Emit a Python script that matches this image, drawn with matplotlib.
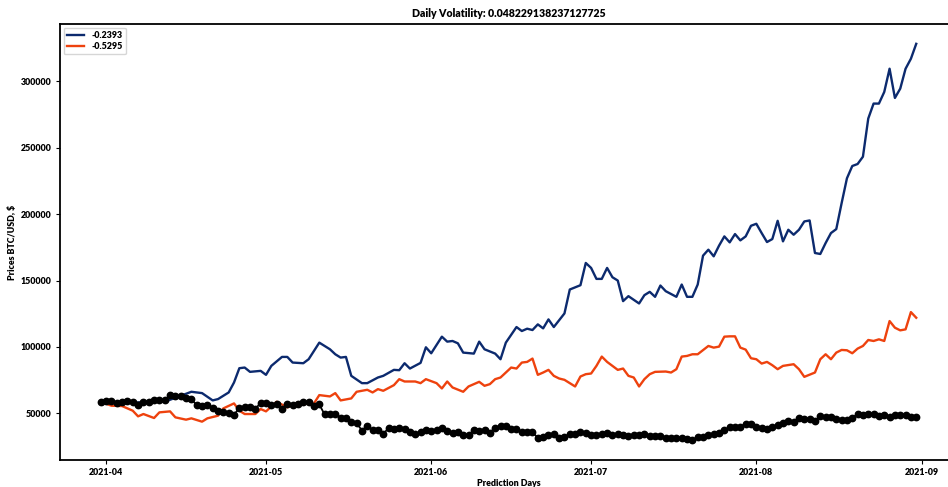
import matplotlib
matplotlib.use("Agg")
import matplotlib.pyplot as plt
import matplotlib.dates as mdates
import numpy as np
import pandas as pd

plt.rcParams['font.family'] = ['Lato', 'DejaVu Sans']
plt.rcParams['font.weight'] = 'bold'

start = pd.Timestamp("2021-04-01")

# actual BTC/USD daily close, 2021-03-31 .. 2021-08-31
actual_prices = [
    58918, 59095, 59384, 57603, 58758, 59057, 58192, 56048, 58323, 58245,
    59793, 60204, 59893, 63503, 63109, 63314, 61572, 60683, 56216, 55724,
    56473, 53906, 51762, 51093, 50050, 49004, 54021, 55033, 54824, 53555,
    57750, 57828, 56631, 57200, 53333, 57424, 56396, 57356, 58803, 58232,
    55859, 56704, 49150, 49716, 49880, 46760, 46456, 43537, 42909, 37002,
    40782, 37304, 37536, 34770, 38706, 38403, 39294, 38437, 35698, 34617,
    35678, 37333, 36685, 37575, 39188, 36851, 35521, 35797, 33553, 33408,
    37346, 36685, 37314, 35552, 39098, 40218, 40406, 38347, 38053, 35787,
    35615, 35698, 31676, 32505, 33723, 34662, 31637, 32186, 34649, 34434,
    35867, 35040, 33572, 33897, 34668, 35287, 33746, 34235, 33855, 32877,
    33798, 33520, 34240, 33155, 32702, 32822, 31780, 31421, 31533, 31796,
    30817, 29807, 32110, 32313, 33581, 34292, 35350, 37337, 39406, 39995,
    40008, 42235, 41626, 39974, 39201, 38152, 39747, 40869, 42816, 44555,
    43798, 46365, 45585, 45593, 44428, 47793, 47097, 47047, 46004, 44695,
    44801, 46718, 49339, 48905, 49321, 49546, 47707, 48993, 46942, 49058,
    48897, 48807, 46991, 47166,
]
actual_days = pd.date_range("2021-03-31", periods=len(actual_prices), freq="D")

# simulated path, drift -0.2393 (day offset from 2021-04-01, price)
blue_day = [
    -1, 3, 6, 9, 11, 14, 16, 18, 20, 21, 23, 24, 25, 26, 27, 29, 30, 31, 33, 34,
    35, 37, 38, 40, 42, 43, 44, 45, 46, 48, 49, 51, 52, 54, 55, 56, 57, 59, 60, 61,
    63, 64, 65, 66, 67, 69, 70, 71, 73, 74, 75, 77, 78, 79, 80, 81, 82, 83, 84, 86,
    87, 89, 90, 91, 92, 93, 94, 95, 96, 97, 98, 100, 101, 102, 103, 104, 105, 107, 108, 109,
    110, 111, 112, 113, 114, 115, 116, 117, 118, 119, 120, 121, 122, 123, 124, 125, 126, 127, 128, 129,
    130, 131, 132, 133, 134, 135, 136, 137, 138, 139, 140, 141, 142, 143, 144, 145, 146, 147, 148, 149,
    150, 151, 152,
]
blue_price = [
    58800, 57750, 58250, 58750, 58750, 63250, 66250, 65250, 59750, 60750,
    65750, 73250, 84000, 84500, 81250, 82000, 79000, 85750, 92500, 92500,
    88250, 87750, 90750, 103250, 98250, 94500, 92000, 92500, 78250, 72750,
    72750, 77000, 78250, 82750, 82500, 87750, 83750, 88000, 99750, 95250,
    107750, 104000, 104500, 102750, 95750, 95000, 104000, 98250, 95000, 90750,
    103250, 115000, 112000, 113750, 112750, 117000, 114000, 120750, 115000, 125250,
    143250, 146500, 163250, 159500, 151250, 151250, 159500, 152500, 150000, 134500,
    138250, 132750, 139000, 141500, 137750, 146250, 142000, 137750, 147000, 137750,
    137750, 147000, 168750, 173250, 168250, 176250, 183250, 178750, 185000, 180250,
    183250, 191250, 192750, 185750, 179000, 181250, 195000, 179500, 188250, 184500,
    188250, 194500, 195250, 170750, 170000, 178250, 185750, 188750, 208250, 227000,
    236250, 237750, 243250, 272000, 283250, 283250, 292000, 309500, 287500, 294500,
    309500, 317000, 328250,
]

# simulated path, drift -0.5295
red_day = [
    -1, 1, 3, 5, 6, 7, 9, 10, 12, 13, 15, 16, 18, 19, 21, 22, 24, 25, 26, 28,
    29, 30, 32, 34, 36, 38, 39, 40, 42, 43, 44, 46, 47, 49, 50, 51, 52, 54, 55, 56,
    58, 59, 60, 62, 63, 64, 65, 67, 68, 70, 71, 72, 73, 74, 75, 76, 77, 78, 79, 80,
    81, 82, 83, 84, 85, 86, 88, 89, 90, 91, 92, 93, 94, 95, 96, 97, 98, 99, 100, 101,
    102, 103, 105, 106, 107, 108, 109, 110, 111, 113, 114, 115, 116, 117, 118, 119, 120, 121, 122, 123,
    124, 125, 126, 127, 129, 130, 131, 133, 134, 135, 136, 137, 138, 139, 140, 141, 142, 143, 144, 145,
    146, 147, 148, 149, 150, 151, 152,
]
red_price = [
    58800, 55750, 55500, 52000, 47750, 49500, 46500, 50750, 51500, 47000,
    45250, 46250, 43750, 46250, 48250, 53750, 57500, 52000, 49500, 49500,
    53250, 51500, 58750, 54500, 58250, 57000, 57500, 63750, 62750, 65250,
    59750, 61250, 66250, 67750, 65750, 68250, 67000, 71250, 75750, 74000,
    74000, 72750, 75750, 72750, 68750, 74000, 69500, 66250, 70250, 73750,
    70750, 72000, 75750, 77000, 80750, 84500, 83750, 88250, 88750, 91250,
    79000, 80750, 82750, 78250, 76250, 75250, 70250, 77750, 79500, 80000,
    85750, 92750, 88750, 85750, 82750, 83750, 78250, 77000, 70250, 75750,
    79500, 81250, 81500, 80750, 83250, 92750, 93250, 94500, 94500, 100750,
    99500, 100250, 107750, 108000, 108000, 99500, 98000, 91500, 90750, 87500,
    88750, 86250, 83250, 85750, 87000, 83250, 77500, 80750, 90750, 94500,
    90750, 95750, 97750, 97500, 95250, 98750, 100750, 105250, 104500, 105750,
    104500, 119500, 114500, 112500, 113250, 126250, 122000,
]

volatility = 0.048229138237127725

blue_dates = start + pd.to_timedelta(blue_day, unit="D")
red_dates = start + pd.to_timedelta(red_day, unit="D")

fig = plt.figure(figsize=(9.48, 4.87), dpi=100)
ax = fig.add_axes([60 / 948, 27 / 487, 897 / 948, 436 / 487])

ax.plot(blue_dates, blue_price, color='#0c2a6e', linewidth=1.7, label='-0.2393')
ax.plot(red_dates, red_price, color='#ee420e', linewidth=1.7, label='-0.5295')
ax.plot(actual_days, actual_prices, color='black', marker='o', markersize=4.6, linewidth=1.3)

ax.xaxis.set_major_locator(mdates.MonthLocator())
ax.xaxis.set_major_formatter(mdates.DateFormatter('%Y-%m'))
ax.tick_params(labelsize=6.4, length=3, width=0.8, pad=3)
for lbl in ax.get_xticklabels() + ax.get_yticklabels():
    lbl.set_fontweight('heavy')
for s in ax.spines.values():
    s.set_linewidth(1.3)

ax.set_title(f'Daily Volatility: {volatility}', fontsize=7.6, fontweight='heavy', pad=5)
ax.set_xlabel('Prediction Days', fontsize=6.4, fontweight='heavy', labelpad=1)
ax.set_ylabel('Prices BTC/USD, $', fontsize=6.4, fontweight='heavy', labelpad=3)
ax.legend(loc='upper left', prop={'size': 6.4, 'weight': 'heavy'}, handlelength=2.0,
          borderpad=0.35, labelspacing=0.3, borderaxespad=0.4)

fig.savefig('out.png', dpi=100)
